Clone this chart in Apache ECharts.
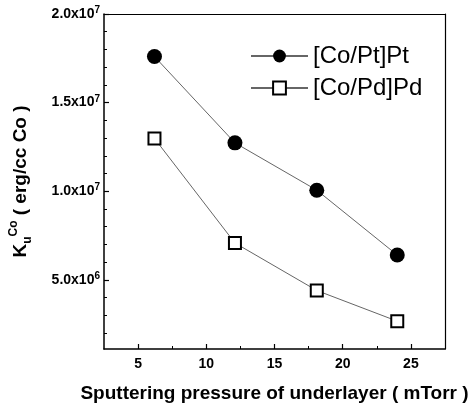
<!DOCTYPE html>
<html><head><meta charset="utf-8">
<script src="https://cdn.jsdelivr.net/npm/echarts@6/dist/echarts.min.js"></script>
<style>html,body{margin:0;padding:0;background:#fff}#chart{width:472px;height:408px}</style>
</head><body><div id="chart"></div>
<script>
// Sputtering pressure of the underlayer (mTorr)
const pressure = [6.2, 12.1, 18.1, 24.0];
// Anisotropy per Co volume (erg/cc Co)
const kuPt = [1.76e7, 1.273e7, 1.006e7, 6.4e6];
const kuPd = [1.298e7, 7.08e6, 4.4e6, 2.67e6];
const seriesNames = ['[Co/Pt]Pt', '[Co/Pd]Pd'];

const xMajorTicks = [5, 10, 15, 20, 25];
const xMinorTicks = [7.5, 12.5, 17.5, 22.5];
const yMajorTicks = [5e6, 1e7, 1.5e7, 2e7];
const yMinorTicks = [2e6, 3e6, 4e6, 6e6, 7e6, 8e6, 9e6, 1.1e7, 1.2e7, 1.3e7, 1.4e7, 1.6e7, 1.7e7, 1.8e7, 1.9e7];

const FONT = '"Liberation Sans", Arial, sans-serif';
const X_MIN = 2.5, X_MAX = 27.5, Y_MIN = 1.1e6, Y_MAX = 2e7;

function sciLabel(v) {
  const exp = Math.floor(Math.log10(v) + 1e-9);
  const mant = (v / Math.pow(10, exp)).toFixed(1);
  return '{m|' + mant + 'x10}{e|' + exp + '}';
}

const chart = echarts.init(document.getElementById('chart'), null, { renderer: 'canvas' });

const plainAxis = {
  axisLine: { show: false }, axisTick: { show: false },
  axisLabel: { show: false }, splitLine: { show: false }
};

chart.setOption({
  animation: false,
  backgroundColor: '#fff',
  grid: { left: 103, top: 14, right: 27, bottom: 59, containLabel: false },
  legend: {
    orient: 'vertical', left: 245, top: 39,
    itemWidth: 57, itemHeight: 16, itemGap: 8,
    textStyle: { fontFamily: FONT, fontSize: 24, color: '#000' },
    data: seriesNames
  },
  xAxis: [
    {
      type: 'value', min: X_MIN, max: X_MAX, position: 'bottom',
      axisLine: { show: true, lineStyle: { color: '#000', width: 1.5 } },
      axisTick: { show: true, inside: true, length: 5, customValues: xMajorTicks, lineStyle: { color: '#000', width: 1.2 } },
      axisLabel: { customValues: xMajorTicks, margin: 8, fontFamily: FONT, fontSize: 14, fontWeight: 'bold', color: '#000' },
      splitLine: { show: false },
      name: 'Sputtering pressure of underlayer ( mTorr )',
      nameLocation: 'middle', nameGap: 35,
      nameTextStyle: { fontFamily: FONT, fontSize: 19, fontWeight: 'bold', color: '#000' }
    },
    Object.assign({}, plainAxis, {
      type: 'value', min: X_MIN, max: X_MAX, position: 'bottom',
      axisTick: { show: true, inside: true, length: 3, customValues: xMinorTicks, lineStyle: { color: '#000', width: 1 } }
    }),
    Object.assign({}, plainAxis, {
      type: 'value', min: X_MIN, max: X_MAX, position: 'top',
      axisLine: { show: true, lineStyle: { color: '#000', width: 1.2 } }
    })
  ],
  yAxis: [
    {
      type: 'value', min: Y_MIN, max: Y_MAX, position: 'left',
      axisLine: { show: true, lineStyle: { color: '#000', width: 1.5 } },
      axisTick: { show: true, inside: true, length: 5, customValues: yMajorTicks, lineStyle: { color: '#000', width: 1.2 } },
      axisLabel: {
        customValues: yMajorTicks, margin: 4, formatter: sciLabel,
        rich: {
          m: { fontFamily: FONT, fontSize: 14, fontWeight: 'bold', color: '#000', lineHeight: 17 },
          e: { fontFamily: FONT, fontSize: 10, fontWeight: 'bold', color: '#000', verticalAlign: 'top', lineHeight: 17 }
        }
      },
      splitLine: { show: false },
      name: '{k|K}{u|u}{c|Co}{t| ( erg/cc Co )}',
      nameLocation: 'middle', nameGap: 70, nameRotate: 90,
      nameTextStyle: {
        rich: {
          k: { fontFamily: FONT, fontSize: 19, fontWeight: 'bold', color: '#000', lineHeight: 26 },
          u: { fontFamily: FONT, fontSize: 12, fontWeight: 'bold', color: '#000', verticalAlign: 'bottom', lineHeight: 26 },
          c: { fontFamily: FONT, fontSize: 12, fontWeight: 'bold', color: '#000', verticalAlign: 'top', lineHeight: 26 },
          t: { fontFamily: FONT, fontSize: 19, fontWeight: 'bold', color: '#000', lineHeight: 26 }
        }
      }
    },
    Object.assign({}, plainAxis, {
      type: 'value', min: Y_MIN, max: Y_MAX, position: 'left',
      axisTick: { show: true, inside: true, length: 3, customValues: yMinorTicks, lineStyle: { color: '#000', width: 1 } }
    }),
    Object.assign({}, plainAxis, {
      type: 'value', min: Y_MIN, max: Y_MAX, position: 'right',
      axisLine: { show: true, lineStyle: { color: '#000', width: 1.2 } }
    })
  ],
  series: [
    {
      name: seriesNames[0], type: 'line', xAxisIndex: 0, yAxisIndex: 0,
      data: pressure.map((x, i) => [x, kuPt[i]]),
      symbol: 'circle', symbolSize: 15,
      itemStyle: { color: '#000' },
      lineStyle: { color: '#666', width: 1 }
    },
    {
      name: seriesNames[1], type: 'line', xAxisIndex: 0, yAxisIndex: 0,
      data: pressure.map((x, i) => [x, kuPd[i]]),
      symbol: 'rect', symbolSize: 12,
      itemStyle: { color: '#fff', borderColor: '#000', borderWidth: 2 },
      lineStyle: { color: '#666', width: 1 }
    }
  ]
});
</script>
</body></html>
